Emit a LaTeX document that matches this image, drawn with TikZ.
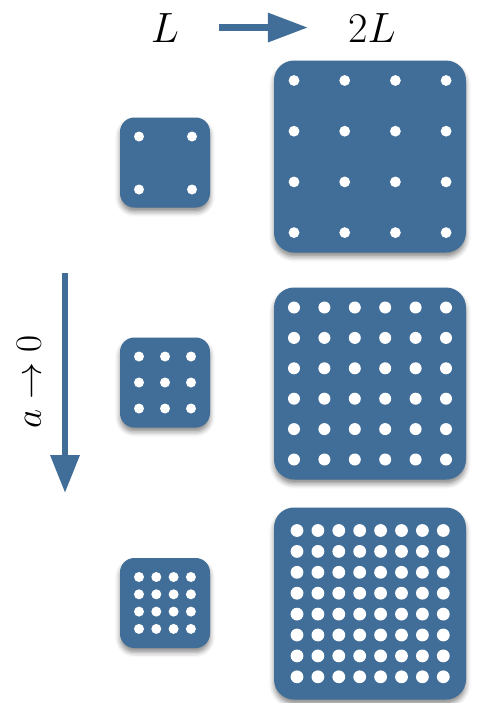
\documentclass[tikz,border=0pt]{standalone}
\usepackage{amsmath,amssymb}
\usetikzlibrary{positioning,calc,arrows.meta,shadows.blur}
\definecolor{latblue}{RGB}{64,110,152}
\tikzset{cell/.style={fill=latblue,inner sep=0pt,outer sep=0pt,
    blur shadow={shadow xshift=0pt,shadow yshift=-1.1mm,shadow blur radius=1.2mm,shadow opacity=45}}}
\tikzset{smallcell/.style={cell,minimum size=22.5mm,rounded corners=3.6mm}}
\tikzset{bigcell/.style={cell,minimum size=48mm,rounded corners=5mm}}
\tikzset{fatarrow/.style={draw=latblue,line width=1.6mm,-{Triangle[length=10mm,width=7mm]}}}
\tikzset{lbl/.style={inner sep=0pt,font=\Huge}}
\newcommand{\biglbl}[2][1.21]{\scalebox{#1}{#2}}
% #1 box, #2 sites per side, #3 inset, #4 pitch, #5 dot radius
\newcommand{\lattice}[5]{%
  \foreach \i in {1,...,#2} \foreach \j in {1,...,#2}
    \fill[white] ($(#1.north west)+({#3+(\i-1)*#4},{#3+(\j-1)*#4})$) circle (#5);
}

\begin{document}
\begin{tikzpicture}[x=0.25mm,y=-0.25mm]
\useasboundingbox (0,0) rectangle (481,703);

    \node[lbl,anchor=base] (L) at (165,42) {\biglbl{$L$}};
    \node[lbl,anchor=base] (2L) at (372,42) {\biglbl{$2L$}};
    \draw[fatarrow,shorten <=10mm,shorten >=10mm] (L) -- (2L);

    \coordinate (atop) at (65,273);
    \coordinate (abot) at (65,493);
    \draw[fatarrow,-{Triangle[length=9.5mm,width=7mm]}] (atop) -- (abot);
    \node[lbl,rotate=90] (alim) at (29,382) {\biglbl[1.06]{$a\to 0$}};

    \node[smallcell] (s1) at (165,162.5) {};
    \node[smallcell] (s2) at (165,382.5) {};
    \node[smallcell] (s3) at (165,603) {};

    \node[bigcell] (b1) at (370,156.5) {};
    \node[bigcell] (b2) at (370,383.5) {};
    \node[bigcell] (b3) at (370,603.5) {};

    \lattice{s1}{2}{19}{53}{1.25mm}
    \lattice{s2}{3}{19}{26}{1.25mm}
    \lattice{s3}{4}{19}{17.3}{1.25mm}

    \lattice{b1}{4}{20}{50.7}{1.35mm}
    \lattice{b2}{6}{20}{30.4}{1.5mm}
    \lattice{b3}{8}{23}{20.9}{1.6mm}

\end{tikzpicture}
\end{document}
